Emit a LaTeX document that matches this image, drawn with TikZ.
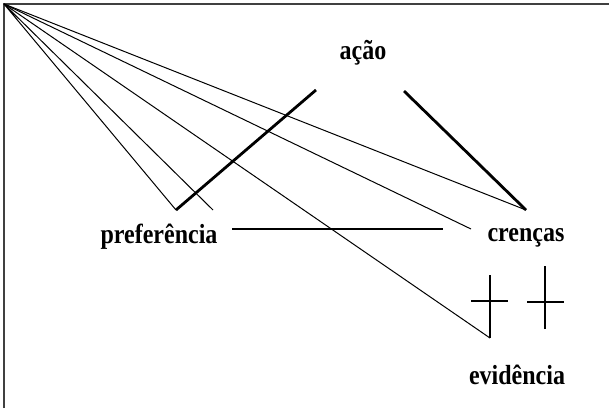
\documentclass[tikz,border=0pt]{standalone}
\usepackage{fontspec}
\setmainfont{Liberation Serif}
\usepackage{graphicx}
\usepackage{tikz}

\newcommand{\tallword}[1]{\scalebox{1}[1.15]{#1}}

\tikzset{
    word/.style={font=\fontsize{24}{28}\selectfont\bfseries, anchor=base, inner sep=0pt},
    thinlink/.style={line width=1pt},
    thicklink/.style={line width=2.8pt},
    frame/.style={line width=1.6pt, black!75}
}

\begin{document}
\begin{tikzpicture}[x=1pt,y=-1pt]
    \useasboundingbox (0,0) rectangle (609,408);

    \coordinate (O) at (4,4);
    \coordinate (P1) at (176,210);
    \coordinate (P2) at (213,210);
    \coordinate (A1) at (316,90);
    \coordinate (A2) at (404,91);
    \coordinate (C) at (526,210);
    \coordinate (C1) at (471,229);
    \coordinate (H1) at (232,229);
    \coordinate (H2) at (443,229);
    \coordinate (E) at (490,338);
    \coordinate (e) at (490,275);
    \coordinate (el) at (471,301);
    \coordinate (er) at (508,301);
    \coordinate (F) at (545,329);
    \coordinate (f) at (545,266);
    \coordinate (fl) at (527,302);
    \coordinate (fr) at (564,302);

    \node [word] (acao) at (363,59) {\tallword{ação}};
    \node [word] (pref) at (159,243) {\tallword{preferência}};
    \node [word] (cren) at (526,241) {\tallword{crenças}};
    \node [word] (evid) at (517,384) {\tallword{evidência}};

    \draw [frame] (4,408) -- (O) -- (609,4);

    \draw [thinlink] (P1) -- (O) -- (P2);
    \draw [thinlink] (O) -- (E);
    \draw [thinlink] (O) -- (C1);
    \draw [thinlink] (O) -- (C);

    \draw [thicklink] (P1) -- (A1);
    \draw [thicklink] (A2) -- (C);
    \draw [thicklink] (H1) -- (H2);

    \draw [thicklink, line width=2.2pt] (E) -- (e);
    \draw [thinlink, line width=1.2pt] (el) -- (er);
    \draw [thicklink, line width=2.2pt] (F) -- (f);
    \draw [thinlink, line width=1.2pt] (fl) -- (fr);
\end{tikzpicture}
\end{document}
